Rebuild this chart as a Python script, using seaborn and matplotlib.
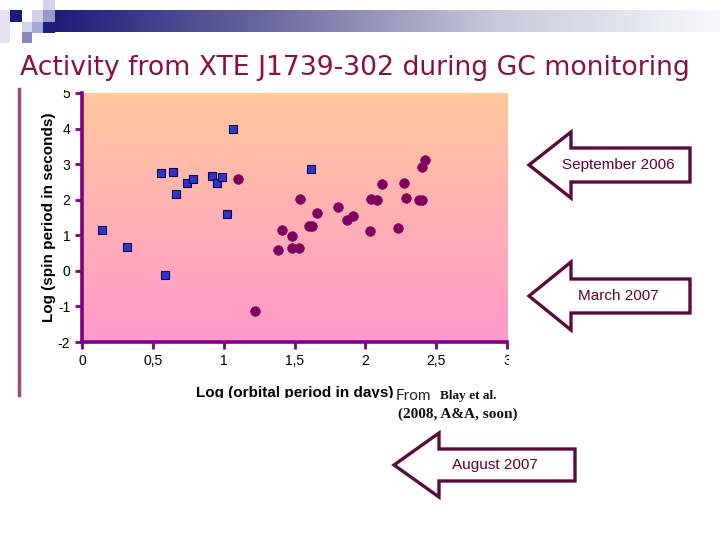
import numpy as np
import pandas as pd
import matplotlib
matplotlib.use('Agg')
import matplotlib.pyplot as plt
import matplotlib.transforms as mtransforms
from matplotlib.patches import Polygon, Rectangle
from matplotlib.colors import LinearSegmentedColormap
import seaborn as sns

# Supergiant X-ray binaries (squares) and Be X-ray binaries (circles)
sg_log_porb = [0.14, 0.32, 0.56, 0.64, 0.585, 0.66, 0.74, 0.78, 0.92, 0.95, 0.99, 1.02, 1.065, 1.615]
sg_log_pspin = [1.14, 0.68, 2.74, 2.79, -0.12, 2.15, 2.47, 2.57, 2.67, 2.47, 2.63, 1.59, 3.99, 2.86]

be_log_porb = [1.10, 1.22, 1.385, 1.41, 1.48, 1.485, 1.53, 1.54, 1.605, 1.625, 1.66, 1.81, 1.87,
               1.91, 2.03, 2.04, 2.08, 2.12, 2.23, 2.27, 2.29, 2.38, 2.40, 2.40, 2.42]
be_log_pspin = [2.57, -1.13, 0.59, 1.14, 0.65, 0.98, 0.65, 2.01, 1.27, 1.27, 1.63, 1.79, 1.43,
                1.54, 1.12, 2.01, 1.98, 2.44, 1.20, 2.47, 2.05, 1.99, 1.99, 2.92, 3.12]

x_ticks = [0, 0.5, 1, 1.5, 2, 2.5, 3]
x_tick_labels = ['0', '0,5', '1', '1,5', '2', '2,5', '3']
y_ticks = [-2, -1, 0, 1, 2, 3, 4, 5]

sg = pd.DataFrame({'porb': sg_log_porb, 'pspin': sg_log_pspin})
be = pd.DataFrame({'porb': be_log_porb, 'pspin': be_log_pspin})

plt.rcParams['axes.unicode_minus'] = False

W, H = 720, 540
fig = plt.figure(figsize=(7.2, 5.4), dpi=100)
fig.patch.set_facecolor('white')
# pixel coordinates (origin top-left) -> figure
px = mtransforms.Affine2D().scale(1 / W, -1 / H).translate(0, 1) + fig.transFigure

# header decoration
bar_ax = fig.add_axes([45 / W, 1 - 32 / H, 675 / W, 22 / H])
cmap_bar = LinearSegmentedColormap.from_list('bar', ['#1a1a78', '#6a6aa0', '#c8c8dc', '#f8f8fc'])
bar_ax.imshow(np.linspace(0, 1, 256)[None, :], aspect='auto', cmap=cmap_bar)
bar_ax.axis('off')
squares = [(0, 10, 10, 33, '#e4e4f2'), (10, 10, 12, 12, '#1a1a78'), (32, 10, 11, 12, '#d0d0e8'),
           (43, 0, 12, 10, '#d4d4ea'), (43, 10, 12, 12, '#9a9ac8'), (43, 22, 12, 11, '#1e1e7c'),
           (32, 22, 11, 11, '#a8a8d4'), (22, 22, 10, 10, '#d4d4ec'), (22, 32, 10, 11, '#8888c0')]
for sx, sy, sw, sh, sc in squares:
    fig.patches.append(Rectangle((sx, sy + sh), sw, -sh, transform=px, facecolor=sc,
                                 edgecolor='none', zorder=5))

fig.text(20 / W, 1 - 75 / H, 'Activity from XTE J1739-302 during GC monitoring',
         fontsize=19.2, color='#8b1040', va='baseline', ha='left', family='DejaVu Sans')

# vertical line at left of the embedded picture
fig.add_artist(plt.Line2D([19 / W, 19 / W], [1 - 89 / H, 1 - 395 / H], color='#9b4d7a', lw=2.5))

# main chart
ax = fig.add_axes([82 / W, 1 - 342 / H, 425 / W, 249 / H])
grad = LinearSegmentedColormap.from_list('bg', ['#ff99cc', '#ffc89c'])
ax.imshow(np.linspace(0, 1, 256)[:, None], aspect='auto', cmap=grad, origin='lower',
          extent=[0, 3, -2, 5], zorder=0)

sns.scatterplot(data=sg, x='porb', y='pspin', marker='s', s=34, color='#3333cc',
                edgecolor='#000055', linewidth=0.8, ax=ax, zorder=3)
sns.scatterplot(data=be, x='porb', y='pspin', marker='o', s=48, color='#800060',
                edgecolor='#800060', linewidth=0.5, ax=ax, zorder=3)

ax.set_xlim(0, 3)
ax.set_ylim(-2, 5)
ax.set_xticks(x_ticks)
ax.set_xticklabels(x_tick_labels)
ax.set_yticks(y_ticks)
for side in ['top', 'right']:
    ax.spines[side].set_visible(False)
for side in ['left', 'bottom']:
    ax.spines[side].set_color('#800080')
    ax.spines[side].set_linewidth(2.6)
ax.tick_params(colors='#800080', width=2, length=5, direction='out', labelcolor='black',
               labelsize=10)
for lab in ax.get_xticklabels() + ax.get_yticklabels():
    lab.set_family('Liberation Sans')
ax.set_xlabel('Log (orbital period in days)', fontsize=11, fontweight='bold',
              family='Liberation Sans', labelpad=13)
ax.set_ylabel('Log (spin period in seconds)', fontsize=11, fontweight='bold',
              family='Liberation Sans', labelpad=1)

# clip the embedded picture edges
for rx, ry, rw, rh in [(55, 80, 25, 9.5), (509, 348, 16, 26), (150, 397.5, 244, 12)]:
    fig.patches.append(Rectangle((rx, ry + rh), rw, -rh, transform=px, facecolor='white',
                                 edgecolor='none', zorder=10))

# citation
fig.text(396 / W, 1 - 396 / H, 'From', fontsize=11, color='#222222', family='Lato',
         va='center', zorder=11)
fig.text(440 / W, 1 - 396 / H, 'Blay et al.', fontsize=9.5, color='#111111',
         family='Liberation Serif', fontweight='bold', va='center', zorder=11)
fig.text(398 / W, 1 - 414 / H, '(2008, A&A, soon)', fontsize=11, color='#111111',
         family='Liberation Serif', fontweight='bold', va='center', zorder=11)


# block arrows
def block_arrow(tip_x, tip_y, head_x, head_half, shaft_half, right_x, label):
    pts = [(tip_x, tip_y), (head_x, tip_y - head_half), (head_x, tip_y - shaft_half),
           (right_x, tip_y - shaft_half), (right_x, tip_y + shaft_half),
           (head_x, tip_y + shaft_half), (head_x, tip_y + head_half)]
    fig.patches.append(Polygon(pts, closed=True, transform=px, facecolor='white',
                               edgecolor='#5a0a3c', linewidth=2.4, zorder=12))
    cx = (head_x + right_x) / 2 - 12
    fig.text(cx / W, 1 - tip_y / H, label, fontsize=11, color='#660022', ha='center',
             va='center', family='Liberation Sans', zorder=13)


block_arrow(529, 165, 571, 33, 17, 690, 'September 2006')
block_arrow(529, 296, 571, 34, 17, 690, 'March 2007')
block_arrow(394, 465, 439, 32, 16, 575, 'August 2007')

fig.savefig('out.png', dpi=100)
